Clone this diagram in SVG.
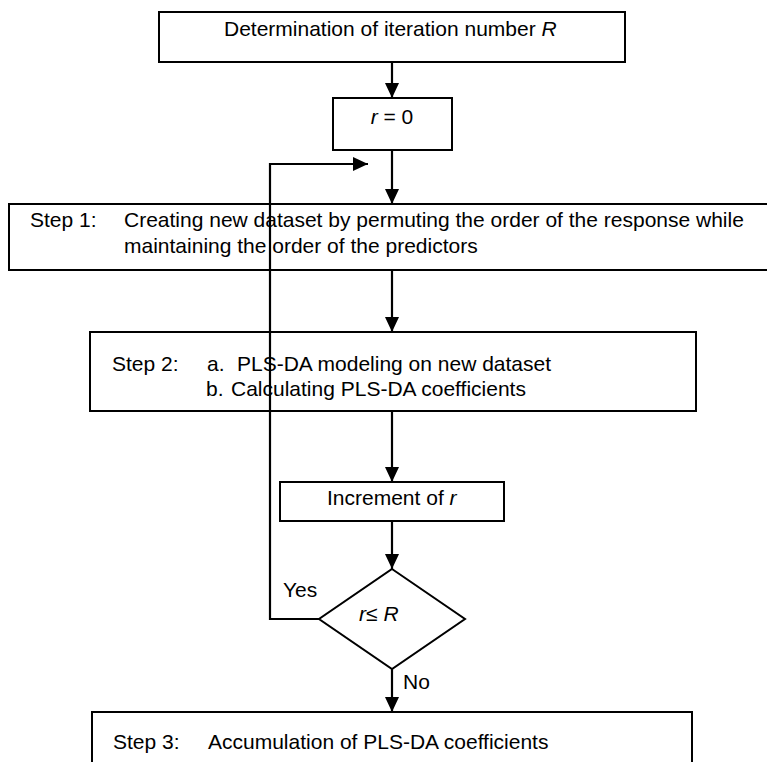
<svg xmlns="http://www.w3.org/2000/svg" width="767" height="762" viewBox="0 0 767 762">
<style>
.box{fill:#fff;stroke:#000;stroke-width:2}
.t{font-family:"Liberation Sans",Arial,sans-serif;font-size:21px;fill:#000}
.i{font-style:italic}
.c{fill:none;stroke:#000;stroke-width:2.2}
</style>
<defs>
<marker id="ah" markerUnits="userSpaceOnUse" markerWidth="15" markerHeight="14" refX="15" refY="7" orient="auto">
<path d="M0,0 L15,7 L0,14 z" fill="#000"/>
</marker>
</defs>
<rect width="767" height="762" fill="#fff"/>
<g id="n-determine">
<rect class="box" x="159" y="12" width="466" height="50"/>
<text class="t" x="224" y="36">Determination of iteration number <tspan class="i">R</tspan></text>
</g>
<g id="n-r0">
<rect class="box" x="333" y="98" width="119" height="52"/>
<text class="t" x="392" y="124" text-anchor="middle"><tspan class="i">r</tspan> = 0</text>
</g>
<g id="n-step1">
<rect class="box" x="9" y="204" width="780" height="66"/>
<text class="t" x="30" y="227">Step 1:</text>
<text class="t" x="124" y="227">Creating new dataset by permuting the order of the response while</text>
<text class="t" x="124" y="253">maintaining the order of the predictors</text>
</g>
<g id="n-step2">
<rect class="box" x="90" y="332" width="606" height="79"/>
<text class="t" x="112" y="371">Step 2:</text>
<text class="t" x="207" y="371">a.</text>
<text class="t" x="237" y="371">PLS-DA modeling on new dataset</text>
<text class="t" x="206" y="396">b.</text>
<text class="t" x="231" y="396">Calculating PLS-DA coefficients</text>
</g>
<g id="n-increment">
<rect class="box" x="280" y="482" width="224" height="39"/>
<text class="t" x="327" y="505">Increment of <tspan class="i">r</tspan></text>
</g>
<g id="n-decision">
<polygon points="392,569 465,619 392,669 319,619" fill="#fff" stroke="#000" stroke-width="2"/>
<text class="t" x="359" y="621"><tspan class="i">r</tspan>≤ <tspan class="i">R</tspan></text>
</g>
<g id="n-step3">
<rect class="box" x="92" y="712" width="600" height="60"/>
<text class="t" x="113" y="749">Step 3:</text>
<text class="t" x="208" y="749">Accumulation of PLS-DA coefficients</text>
</g>
<g id="connectors">
<line class="c" x1="392" y1="62" x2="392" y2="98" marker-end="url(#ah)"/>
<line class="c" x1="392" y1="150" x2="392" y2="204" marker-end="url(#ah)"/>
<line class="c" x1="392" y1="270" x2="392" y2="332" marker-end="url(#ah)"/>
<line class="c" x1="392" y1="411" x2="392" y2="482" marker-end="url(#ah)"/>
<line class="c" x1="392" y1="521" x2="392" y2="569" marker-end="url(#ah)"/>
<line class="c" x1="392" y1="669" x2="392" y2="712" marker-end="url(#ah)"/>
<polyline class="c" points="319,619 270,619 270,164 368,164" marker-end="url(#ah)"/>
<text class="t" x="283" y="597">Yes</text>
<text class="t" x="403" y="689">No</text>
</g>
</svg>
